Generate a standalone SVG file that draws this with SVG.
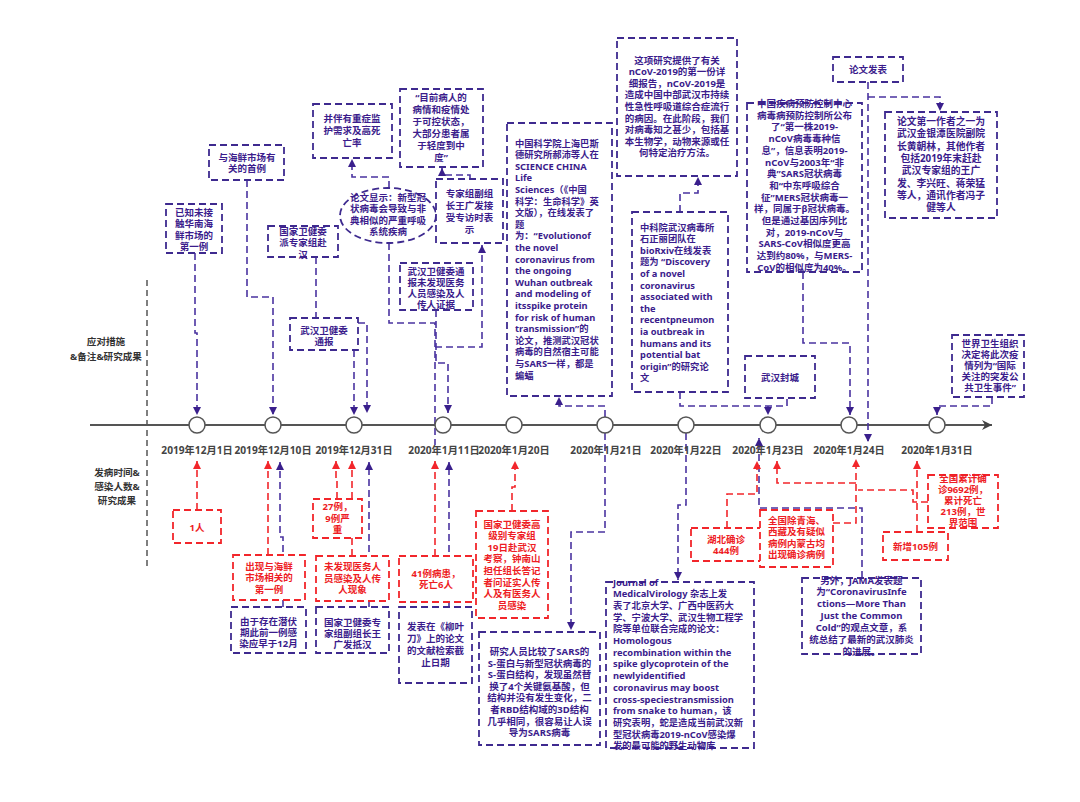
<svg xmlns="http://www.w3.org/2000/svg" width="1080" height="802" viewBox="0 0 1080 802">
<defs>
<style>
.bp{fill:#fff;stroke:#3e2a8f;stroke-width:1.8;stroke-dasharray:7 4}
.br{fill:#fff;stroke:#f2262b;stroke-width:1.8;stroke-dasharray:7 4}
.cp{fill:none;stroke:#4a33a0;stroke-width:1.6;stroke-dasharray:7 4}
.cr{fill:none;stroke:#f2262b;stroke-width:1.6;stroke-dasharray:7 4}
.cg{fill:none;stroke:#555;stroke-width:1.5;stroke-dasharray:6 4}
text{font-family:"Noto Sans","Noto Sans CJK SC",sans-serif;font-weight:700;font-size:9.5px}
.tp{fill:#3b1c8c;text-anchor:middle}
.tpl{fill:#3b1c8c;font-size:9.3px}
.tr{fill:#ee1c24;text-anchor:middle}
.d{fill:#444;text-anchor:middle;font-size:10.2px}
.lab{fill:#333;text-anchor:middle;font-size:9.6px}
.dot{fill:#fff;stroke:#555;stroke-width:1.5}
</style>
<marker id="ap" viewBox="0 0 10 10" refX="10" refY="5" markerWidth="8" markerHeight="8" markerUnits="userSpaceOnUse" orient="auto"><path d="M0,0 L10,5 L0,10 z" fill="#3a1f8c"/></marker>
<marker id="ar" viewBox="0 0 10 10" refX="10" refY="5" markerWidth="8" markerHeight="8" markerUnits="userSpaceOnUse" orient="auto"><path d="M0,0 L10,5 L0,10 z" fill="#f2262b"/></marker>
<marker id="ag" viewBox="0 0 10 10" refX="10" refY="5" markerWidth="11" markerHeight="10" markerUnits="userSpaceOnUse" orient="auto"><path d="M0,0 L10,5 L0,10 L3,5 z" fill="#444"/></marker>
</defs>
<rect width="1080" height="802" fill="#fff"/>

<!-- side labels -->
<g id="side-labels">
<path class="cg" d="M147,280 V570"/>
<text class="lab" x="106" y="345">应对措施</text>
<text class="lab" x="106" y="360">&amp;备注&amp;研究成果</text>
<text class="lab" x="117" y="476">发病时间&amp;</text>
<text class="lab" x="117" y="490">感染人数&amp;</text>
<text class="lab" x="117" y="504">研究成果</text>
</g>

<!-- axis -->
<g id="axis">
<path d="M90,425 H992" stroke="#555" stroke-width="2" fill="none" marker-end="url(#ag)"/>
</g>

<!-- connectors -->
<g id="connectors">
<path class="cp" d="M195,253 V333 H197 V415" marker-end="url(#ap)"/>
<path class="cp" d="M247,180 V297 H273 V415" marker-end="url(#ap)"/>
<path class="cp" d="M316,257 V318"/>
<path class="cp" d="M354,350 V415" marker-end="url(#ap)"/>
<path class="cp" d="M358,323 H367 V413" marker-end="url(#ap)"/>
<path class="cp" d="M389,188 V177 H352 V159" marker-end="url(#ap)"/>
<path class="cp" d="M389,243 V323 H435 V445"/>
<path class="cp" d="M435,347 H482 V245" marker-end="url(#ap)"/>
<path class="cp" d="M470,179 V175 H442 V168" marker-end="url(#ap)"/>
<path class="cp" d="M436,310 V363 H448 V413" marker-end="url(#ap)"/>
<path class="cp" d="M605,417 V406 H559 V397" marker-end="url(#ap)"/>
<path class="cp" d="M680,212 V193 H698 V177" marker-end="url(#ap)"/>
<path class="cp" d="M680,392 V406 H787 V398"/>
<path class="cp" d="M768,406 V415" marker-end="url(#ap)"/>
<path class="cp" d="M803,272 V343 H850 V415" marker-end="url(#ap)"/>
<path class="cp" d="M868,82 V442" marker-end="url(#ap)"/>
<path class="cp" d="M868,97 H940 V111" marker-end="url(#ap)"/>
<path class="cp" d="M992,397 V406 H937 V415" marker-end="url(#ap)"/>
<path class="cp" d="M605,433 V532 H571 V630" marker-end="url(#ap)"/>
<path class="cp" d="M686,433 V505 H678 V580" marker-end="url(#ap)"/>
<path class="cp" d="M283,607 V537 H280 V462" marker-end="url(#ap)"/>
<path class="cp" d="M369,607 V462" marker-end="url(#ap)"/>
<path class="cp" d="M449,607 V462" marker-end="url(#ap)"/>
<path class="cp" d="M862,578 V508 H759 V438" marker-end="url(#ap)"/>
<path class="cr" d="M197,510 V461" marker-end="url(#ar)"/>
<path class="cr" d="M268,555 V461" marker-end="url(#ar)"/>
<path class="cr" d="M337,499 V480 H336 V461" marker-end="url(#ar)"/>
<path class="cr" d="M352,499 V461" marker-end="url(#ar)"/>
<path class="cr" d="M352,556 V538"/>
<path class="cr" d="M435,556 V461" marker-end="url(#ar)"/>
<path class="cr" d="M512,511 V487 H515 V461" marker-end="url(#ar)"/>
<path class="cr" d="M727,528 V494 H757 V461" marker-end="url(#ar)"/>
<path class="cr" d="M833,523 H856 V459" marker-end="url(#ar)"/>
<path class="cr" d="M856,483 H777 V461" marker-end="url(#ar)"/>
<path class="cr" d="M928,502 H913 V490 H858"/>
<path class="cr" d="M917,532 V461" marker-end="url(#ar)"/>
</g>

<!-- timeline points -->
<g id="t1201"><circle class="dot" cx="197" cy="425" r="8"/><text class="d" x="197" y="454">2019年12月1日</text></g>
<g id="t1210"><circle class="dot" cx="273" cy="425" r="8"/><text class="d" x="273" y="454">2019年12月10日</text></g>
<g id="t1231"><circle class="dot" cx="354" cy="425" r="8"/><text class="d" x="354" y="454">2019年12月31日</text></g>
<g id="t0111"><circle class="dot" cx="443" cy="425" r="8"/><text class="d" x="444" y="454">2020年1月11日</text></g>
<g id="t0120"><circle class="dot" cx="514" cy="425" r="8"/><text class="d" x="514" y="454">2020年1月20日</text></g>
<g id="t0121"><circle class="dot" cx="605" cy="425" r="8"/><text class="d" x="606" y="454">2020年1月21日</text></g>
<g id="t0122"><circle class="dot" cx="686" cy="425" r="8"/><text class="d" x="686" y="454">2020年1月22日</text></g>
<g id="t0123"><circle class="dot" cx="768" cy="425" r="8"/><text class="d" x="768" y="454">2020年1月23日</text></g>
<g id="t0124"><circle class="dot" cx="849" cy="425" r="8"/><text class="d" x="849" y="454">2020年1月24日</text></g>
<g id="t0131"><circle class="dot" cx="937" cy="425" r="8"/><text class="d" x="937" y="454">2020年1月31日</text></g>

<!-- top nodes -->
<g id="n-first-unlinked"><rect class="bp" x="166" y="204" width="56" height="49"/>
<text class="tp" x="194" y="215.5"><tspan x="194">已知未接</tspan><tspan x="194" dy="11.5">触华南海</tspan><tspan x="194" dy="11.5">鲜市场的</tspan><tspan x="194" dy="11.5">第一例</tspan></text></g>

<g id="n-first-market"><rect class="bp" x="209" y="145" width="75" height="35"/>
<text class="tp" x="247" y="160.5"><tspan x="247">与海鲜市场有</tspan><tspan x="247" dy="11.5">关的首例</tspan></text></g>

<g id="n-experts-sent"><rect class="bp" x="268" y="226" width="70" height="31"/>
<text class="tp" x="303" y="234.5"><tspan x="303">国家卫健委</tspan><tspan x="303" dy="11.5">派专家组赴</tspan><tspan x="303" dy="11.5">汉</tspan></text></g>

<g id="n-wuhan-report"><rect class="bp" x="290" y="318" width="68" height="32"/>
<text class="tp" x="324" y="333.5"><tspan x="324">武汉卫健委</tspan><tspan x="324" dy="11.5">通报</tspan></text></g>

<g id="n-icu"><rect class="bp" x="313" y="104" width="79" height="54"/>
<text class="tp" x="352" y="121.5"><tspan x="352">并伴有重症监</tspan><tspan x="352" dy="12">护需求及高死</tspan><tspan x="352" dy="12">亡率</tspan></text></g>

<g id="n-controllable"><rect class="bp" x="400" y="89" width="83" height="78"/>
<text class="tp" x="441" y="100.5"><tspan x="441">“目前病人的</tspan><tspan x="441" dy="12">病情和疫情处</tspan><tspan x="441" dy="12">于可控状态，</tspan><tspan x="441" dy="12">大部分患者属</tspan><tspan x="441" dy="12">于轻度到中</tspan><tspan x="441" dy="12">度”</tspan></text></g>

<g id="n-paper-ellipse"><ellipse class="bp" cx="388" cy="215.5" rx="48" ry="27.5"/>
<text class="tp" x="388" y="200.5"><tspan x="388">论文显示：新型冠</tspan><tspan x="388" dy="11.5">状病毒会导致与非</tspan><tspan x="388" dy="11.5">典相似的严重呼吸</tspan><tspan x="388" dy="11.5">系统疾病</tspan></text></g>

<g id="n-interview"><rect class="bp" x="436" y="179" width="67" height="64"/>
<text class="tp" x="469.5" y="196.5"><tspan x="469.5">专家组副组</tspan><tspan x="469.5" dy="12">长王广发接</tspan><tspan x="469.5" dy="12">受专访时表</tspan><tspan x="469.5" dy="12">示</tspan></text></g>

<g id="n-no-medical"><rect class="bp" x="400" y="263" width="73" height="47"/>
<text class="tp" x="436" y="275"><tspan x="436">武汉卫健委通</tspan><tspan x="436" dy="11">报未发现医务</tspan><tspan x="436" dy="11">人员感染及人</tspan><tspan x="436" dy="11">传人证据</tspan></text></g>

<g id="n-science-china"><rect class="bp" x="507" y="123" width="105" height="273"/>
<text class="tpl" x="515" y="146.5"><tspan x="515">中国科学院上海巴斯</tspan><tspan x="515" dy="11.6">德研究所郝沛等人在</tspan><tspan x="515" dy="11.6">SCIENCE CHINA</tspan><tspan x="515" dy="11.6">Life</tspan><tspan x="515" dy="11.6">Sciences（《中国</tspan><tspan x="515" dy="11.6">科学：生命科学》英</tspan><tspan x="515" dy="11.6">文版），在线发表了</tspan><tspan x="515" dy="11.6">题</tspan><tspan x="515" dy="11.6">为：“Evolutionof</tspan><tspan x="515" dy="11.6">the novel</tspan><tspan x="515" dy="11.6">coronavirus from</tspan><tspan x="515" dy="11.6">the ongoing</tspan><tspan x="515" dy="11.6">Wuhan outbreak</tspan><tspan x="515" dy="11.6">and modeling of</tspan><tspan x="515" dy="11.6">itsspike protein</tspan><tspan x="515" dy="11.6">for risk of human</tspan><tspan x="515" dy="11.6">transmission”的</tspan><tspan x="515" dy="11.6">论文，推测武汉冠状</tspan><tspan x="515" dy="11.6">病毒的自然宿主可能</tspan><tspan x="515" dy="11.6">与SARS一样，都是</tspan><tspan x="515" dy="11.6">蝙蝠</tspan></text></g>

<g id="n-first-report"><rect class="bp" x="617" y="38" width="120" height="138"/>
<text class="tp" x="677" y="63.5"><tspan x="677">这项研究提供了有关</tspan><tspan x="677" dy="11.6">nCoV-2019的第一份详</tspan><tspan x="677" dy="11.6">细报告，nCoV-2019是</tspan><tspan x="677" dy="11.6">造成中国中部武汉市持续</tspan><tspan x="677" dy="11.6">性急性呼吸道综合症流行</tspan><tspan x="677" dy="11.6">的病因。在此阶段，我们</tspan><tspan x="677" dy="11.6">对病毒知之甚少，包括基</tspan><tspan x="677" dy="11.6">本生物学，动物来源或任</tspan><tspan x="677" dy="11.6">何特定治疗方法。</tspan></text></g>

<g id="n-wiv-biorxiv"><rect class="bp" x="632" y="212" width="96" height="180"/>
<text class="tpl" x="640" y="230.5"><tspan x="640">中科院武汉病毒所</tspan><tspan x="640" dy="11.6">石正丽团队在</tspan><tspan x="640" dy="11.6">bioRxiv在线发表</tspan><tspan x="640" dy="11.6">题为 “Discovery</tspan><tspan x="640" dy="11.6">of a novel</tspan><tspan x="640" dy="11.6">coronavirus</tspan><tspan x="640" dy="11.6">associated with</tspan><tspan x="640" dy="11.6">the</tspan><tspan x="640" dy="11.6">recentpneumon</tspan><tspan x="640" dy="11.6">ia outbreak in</tspan><tspan x="640" dy="11.6">humans and its</tspan><tspan x="640" dy="11.6">potential bat</tspan><tspan x="640" dy="11.6">origin”的研究论</tspan><tspan x="640" dy="11.6">文</tspan></text></g>

<g id="n-cdc-strain"><rect class="bp" x="747" y="103" width="115" height="169"/>
<text class="tp" x="804.5" y="107"><tspan x="804.5">中国疾病预防控制中心</tspan><tspan x="804.5" dy="11.7">病毒病预防控制所公布</tspan><tspan x="804.5" dy="11.7">了“第一株2019-</tspan><tspan x="804.5" dy="11.7">nCoV病毒毒种信</tspan><tspan x="804.5" dy="11.7">息”，信息表明2019-</tspan><tspan x="804.5" dy="11.7">nCoV与2003年“非</tspan><tspan x="804.5" dy="11.7">典”SARS冠状病毒</tspan><tspan x="804.5" dy="11.7">和“中东呼吸综合</tspan><tspan x="804.5" dy="11.7">征”MERS冠状病毒一</tspan><tspan x="804.5" dy="11.7">样，同属于β冠状病毒。</tspan><tspan x="804.5" dy="11.7">但是通过基因序列比</tspan><tspan x="804.5" dy="11.7">对，2019-nCoV与</tspan><tspan x="804.5" dy="11.7">SARS-CoV相似度更高</tspan><tspan x="804.5" dy="11.7">达到约80%，与MERS-</tspan><tspan x="804.5" dy="11.7">CoV的相似度为40%。</tspan></text></g>

<g id="n-paper-published"><rect class="bp" x="833" y="57" width="70" height="25"/>
<text class="tp" x="868" y="73">论文发表</text></g>

<g id="n-authors"><rect class="bp" x="885" y="112" width="112" height="106"/>
<text class="tp" x="941" y="125" style="font-size:9.8px"><tspan x="941">论文第一作者之一为</tspan><tspan x="941" dy="12.3">武汉金银潭医院副院</tspan><tspan x="941" dy="12.3">长黄朝林，其他作者</tspan><tspan x="941" dy="12.3">包括2019年末赶赴</tspan><tspan x="941" dy="12.3">武汉专家组的王广</tspan><tspan x="941" dy="12.3">发、李兴旺、蒋荣猛</tspan><tspan x="941" dy="12.3">等人，通讯作者冯子</tspan><tspan x="941" dy="12.3">健等人</tspan></text></g>

<g id="n-lockdown"><rect class="bp" x="745" y="356" width="70" height="42"/>
<text class="tp" x="780" y="380.5">武汉封城</text></g>

<g id="n-who"><rect class="bp" x="952" y="335" width="72" height="62"/>
<text class="tp" x="990" y="347"><tspan x="990">世界卫生组织</tspan><tspan x="990" dy="11">决定将此次疫</tspan><tspan x="990" dy="11">情列为“国际</tspan><tspan x="990" dy="11">关注的突发公</tspan><tspan x="990" dy="11">共卫生事件”</tspan></text></g>

<!-- bottom nodes -->
<g id="b-1person"><rect class="br" x="173" y="510" width="48" height="33"/>
<text class="tr" x="197" y="530.5">1人</text></g>

<g id="b-market-first"><rect class="br" x="233" y="555" width="72" height="45"/>
<text class="tr" x="269" y="569.5"><tspan x="269">出现与海鲜</tspan><tspan x="269" dy="11.5">市场相关的</tspan><tspan x="269" dy="11.5">第一例</tspan></text></g>

<g id="b-incubation"><rect class="bp" x="231" y="607" width="75" height="46"/>
<text class="tp" x="268.5" y="625"><tspan x="268.5">由于存在潜伏</tspan><tspan x="268.5" dy="11">期此前一例感</tspan><tspan x="268.5" dy="11">染应早于12月</tspan></text></g>

<g id="b-27cases"><rect class="br" x="313" y="499" width="49" height="39"/>
<text class="tr" x="337.5" y="510"><tspan x="337.5">27例，</tspan><tspan x="337.5" dy="11.5">9例严</tspan><tspan x="337.5" dy="11.5">重</tspan></text></g>

<g id="b-no-h2h"><rect class="br" x="316" y="556" width="73" height="45"/>
<text class="tr" x="352.5" y="570"><tspan x="352.5">未发现医务人</tspan><tspan x="352.5" dy="11.5">员感染及人传</tspan><tspan x="352.5" dy="11.5">人现象</tspan></text></g>

<g id="b-wang-arrives"><rect class="bp" x="316" y="607" width="73" height="46"/>
<text class="tp" x="352.5" y="626"><tspan x="352.5">国家卫健委专</tspan><tspan x="352.5" dy="11">家组副组长王</tspan><tspan x="352.5" dy="11">广发抵汉</tspan></text></g>

<g id="b-41cases"><rect class="br" x="399" y="556" width="74" height="46"/>
<text class="tr" x="436" y="576.5"><tspan x="436">41例病患，</tspan><tspan x="436" dy="11.5">死亡6人</tspan></text></g>

<g id="b-lancet"><rect class="bp" x="399" y="607" width="73" height="76"/>
<text class="tp" x="435.5" y="630"><tspan x="435.5">发表在《柳叶</tspan><tspan x="435.5" dy="12">刀》上的论文</tspan><tspan x="435.5" dy="12">的文献检索截</tspan><tspan x="435.5" dy="12">止日期</tspan></text></g>

<g id="b-zhong"><rect class="br" x="476" y="511" width="72" height="107"/>
<text class="tr" x="512" y="527.5"><tspan x="512">国家卫健委高</tspan><tspan x="512" dy="11.6">级别专家组</tspan><tspan x="512" dy="11.6">19日赴武汉</tspan><tspan x="512" dy="11.6">考察，钟南山</tspan><tspan x="512" dy="11.6">担任组长答记</tspan><tspan x="512" dy="11.6">者问证实人传</tspan><tspan x="512" dy="11.6">人及有医务人</tspan><tspan x="512" dy="11.6">员感染</tspan></text></g>

<g id="b-sars-compare"><rect class="bp" x="479" y="632" width="121" height="113"/>
<text class="tp" x="539.5" y="655"><tspan x="539.5">研究人员比较了SARS的</tspan><tspan x="539.5" dy="11.6">S-蛋白与新型冠状病毒的</tspan><tspan x="539.5" dy="11.6">S-蛋白结构，发现虽然替</tspan><tspan x="539.5" dy="11.6">换了4个关键氨基酸，但</tspan><tspan x="539.5" dy="11.6">结构并没有发生变化，二</tspan><tspan x="539.5" dy="11.6">者RBD结构域的3D结构</tspan><tspan x="539.5" dy="11.6">几乎相同，很容易让人误</tspan><tspan x="539.5" dy="11.6">导为SARS病毒</tspan></text></g>

<g id="b-snake"><rect class="bp" x="606" y="582" width="148" height="166"/>
<text class="tpl" x="613" y="585.5"><tspan x="613">Journal of</tspan><tspan x="613" dy="11.7">MedicalVirology 杂志上发</tspan><tspan x="613" dy="11.7">表了北京大学、广西中医药大</tspan><tspan x="613" dy="11.7">学、宁波大学、武汉生物工程学</tspan><tspan x="613" dy="11.7">院等单位联合完成的论文：</tspan><tspan x="613" dy="11.7">Homologous</tspan><tspan x="613" dy="11.7">recombination within the</tspan><tspan x="613" dy="11.7">spike glycoprotein of the</tspan><tspan x="613" dy="11.7">newlyidentified</tspan><tspan x="613" dy="11.7">coronavirus may boost</tspan><tspan x="613" dy="11.7">cross-speciestransmission</tspan><tspan x="613" dy="11.7">from snake to human，该</tspan><tspan x="613" dy="11.7">研究表明，蛇是造成当前武汉新</tspan><tspan x="613" dy="11.7">型冠状病毒2019-nCoV感染爆</tspan><tspan x="613" dy="11.7">发的最可能的野生动物库</tspan></text></g>

<g id="b-hubei444"><rect class="br" x="691" y="528" width="70" height="33"/>
<text class="tr" x="726" y="542.5"><tspan x="726">湖北确诊</tspan><tspan x="726" dy="11.5">444例</tspan></text></g>

<g id="b-nationwide"><rect class="br" x="760" y="510" width="73" height="57"/>
<text class="tr" x="796.5" y="523.5"><tspan x="796.5">全国除青海、</tspan><tspan x="796.5" dy="11.5">西藏及有疑似</tspan><tspan x="796.5" dy="11.5">病例内蒙古均</tspan><tspan x="796.5" dy="11.5">出现确诊病例</tspan></text></g>

<g id="b-jama"><rect class="bp" x="802" y="578" width="119" height="76"/>
<text class="tp" x="861.5" y="583.5"><tspan x="861.5">另外，JAMA发表题</tspan><tspan x="861.5" dy="11.9">为“CoronavirusInfe</tspan><tspan x="861.5" dy="11.9">ctions—More Than</tspan><tspan x="861.5" dy="11.9">Just the Common</tspan><tspan x="861.5" dy="11.9">Cold”的观点文章，系</tspan><tspan x="861.5" dy="11.9">统总结了最新的武汉肺炎</tspan><tspan x="861.5" dy="11.9">的进展。</tspan></text></g>

<g id="b-total9692"><rect class="br" x="928" y="475" width="70" height="53"/>
<text class="tr" x="963" y="481.5"><tspan x="963">全国累计确</tspan><tspan x="963" dy="11.2">诊9692例，</tspan><tspan x="963" dy="11.2">累计死亡</tspan><tspan x="963" dy="11.2">213例，世</tspan><tspan x="963" dy="11.2">界范围</tspan></text></g>

<g id="b-new105"><rect class="br" x="883" y="532" width="65" height="28"/>
<text class="tr" x="915.5" y="549.5">新增105例</text></g>
</svg>
